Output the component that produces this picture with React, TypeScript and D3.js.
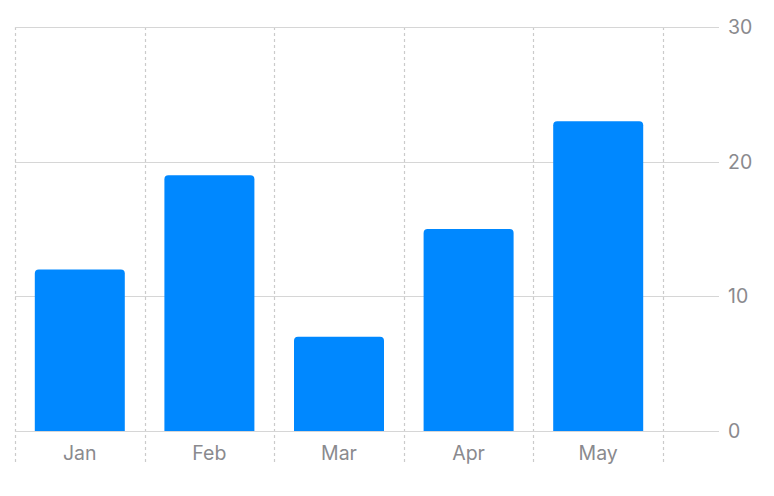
import React from "react";
import * as d3 from "d3";

const months = ["Jan", "Feb", "Mar", "Apr", "May"];
const sales = [12, 19, 7, 15, 23];
const yTicks = [0, 10, 20, 30];

const W = 774;
const H = 496;

export default function App() {
  const x = d3.scaleBand<string>().domain([...months, ""]).range([15, 15 + 129.6 * 6]).paddingInner(0).paddingOuter(0);
  const plotRight = 719;
  const y = d3.scaleLinear().domain([0, 30]).range([431, 27]);
  const bw = 90;
  const r = 4;
  const gridColor = "#d6d6d6";
  const dashColor = "#cbcbcb";
  const labelColor = "#8a8a8e";
  const font = "Inter, 'Noto Sans', sans-serif";

  const barPath = (cx: number, v: number) => {
    const x0 = cx - bw / 2;
    const x1 = cx + bw / 2;
    const y0 = y(0);
    const y1 = y(v);
    return `M${x0},${y0}V${y1 + r}Q${x0},${y1} ${x0 + r},${y1}H${x1 - r}Q${x1},${y1} ${x1},${y1 + r}V${y0}Z`;
  };

  const vLines = [...months.map((m) => x(m)!), x("")!];

  return (
    <svg width={W} height={H} style={{ position: "absolute", left: 0, top: 0, background: "#fff" }}>
      {vLines.map((vx, i) => (
        <line key={"v" + i} x1={Math.round(vx) + 0.5} x2={Math.round(vx) + 0.5} y1={y(30)} y2={463} stroke={dashColor} strokeWidth={1.2} strokeDasharray="3,3" />
      ))}
      {yTicks.map((t) => (
        <line key={"h" + t} x1={15} x2={plotRight} y1={Math.round(y(t)) + 0.5} y2={Math.round(y(t)) + 0.5} stroke={gridColor} strokeWidth={1} />
      ))}
      {months.map((m, i) => (
        <path key={m} d={barPath(x(m)! + x.bandwidth() / 2, sales[i])} fill="#0088FF" />
      ))}
      {yTicks.map((t) => (
        <text key={"yl" + t} x={728} y={y(t) + 7} fontFamily={font} fontSize={19.5} fill={labelColor}>
          {t}
        </text>
      ))}
      {months.map((m) => (
        <text key={"xl" + m} x={x(m)! + x.bandwidth() / 2} y={460} textAnchor="middle" fontFamily={font} fontSize={19.5} fill={labelColor}>
          {m}
        </text>
      ))}
    </svg>
  );
}
